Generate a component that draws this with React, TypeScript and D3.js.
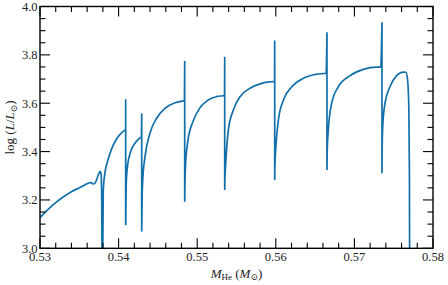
import React from "react";
import * as d3 from "d3";

// Helium core mass (Msun) and log luminosity
const mass: number[] = [
  0.5300, 0.5310, 0.5320, 0.5330, 0.5340, 0.5350, 0.5357, 0.5362, 0.5365, 0.5368,
  0.5371, 0.5374, 0.53765, 0.53778, 0.53785, 0.53790, 0.53797,
  0.53805, 0.5383, 0.5386, 0.5391, 0.5397, 0.5403, 0.5408, 0.54090,
  0.54090, 0.54090,
  0.54091, 0.54094, 0.54100, 0.54118, 0.54140, 0.54161, 0.54190, 0.54224, 0.54275, 0.54290,
  0.54294, 0.54294,
  0.54296, 0.54300, 0.54307, 0.54336, 0.54399, 0.54484, 0.54590, 0.54718, 0.54824, 0.54838,
  0.54841, 0.54841,
  0.54843, 0.54850, 0.54883, 0.54946, 0.55031, 0.55137, 0.55244, 0.55328, 0.55348,
  0.55350, 0.55350,
  0.55352, 0.55363, 0.55396, 0.55460, 0.55545, 0.55672, 0.55799, 0.55918, 0.55984,
  0.55986, 0.55986,
  0.55988, 0.56004, 0.56033, 0.56097, 0.56204, 0.56352, 0.56522, 0.56640,
  0.56651, 0.56651,
  0.56654, 0.56668, 0.56711, 0.56795, 0.56940, 0.57113, 0.57284, 0.57335,
  0.57351, 0.57351,
  0.57353, 0.57360, 0.57389, 0.57452, 0.57537, 0.57621, 0.57656, 0.57677, 0.57693, 0.57700, 0.57703,
];
const logL: number[] = [
  3.127, 3.160, 3.189, 3.213, 3.234, 3.250, 3.262, 3.270, 3.272, 3.266,
  3.275, 3.302, 3.318, 3.305, 3.200, 2.950, 2.950,
  3.240, 3.320, 3.360, 3.410, 3.450, 3.475, 3.489, 3.492,
  3.616, 3.096,
  3.100, 3.200, 3.290, 3.352, 3.385, 3.407, 3.426, 3.441, 3.457, 3.460,
  3.558, 3.069,
  3.120, 3.220, 3.282, 3.379, 3.476, 3.538, 3.579, 3.602, 3.610, 3.611,
  3.775, 3.193,
  3.240, 3.337, 3.448, 3.524, 3.579, 3.613, 3.627, 3.631, 3.632,
  3.792, 3.241,
  3.280, 3.352, 3.489, 3.572, 3.627, 3.662, 3.680, 3.688, 3.690,
  3.859, 3.282,
  3.330, 3.434, 3.531, 3.613, 3.668, 3.703, 3.720, 3.724,
  3.893, 3.324,
  3.400, 3.489, 3.600, 3.668, 3.713, 3.740, 3.749, 3.749,
  3.935, 3.310,
  3.400, 3.503, 3.600, 3.668, 3.714, 3.729, 3.728, 3.696, 3.572, 3.300, 2.900,
];

const xMajor: number[] = [0.53, 0.54, 0.55, 0.56, 0.57, 0.58];
const xMajorLabels: string[] = ["0.53", "0.54", "0.55", "0.56", "0.57", "0.58"];
const yMajor: number[] = [3.0, 3.2, 3.4, 3.6, 3.8, 4.0];
const yMajorLabels: string[] = ["3.0", "3.2", "3.4", "3.6", "3.8", "4.0"];

const W = 448;
const H = 285;
const left = 40;
const right = 433;
const top = 6.5;
const bottom = 248.3;
const FONT = "Liberation Serif, DejaVu Serif, serif";
const COLOR = "#1170aa";

export default function App() {
  const x = d3.scaleLinear().domain([0.53, 0.58]).range([left, right]);
  const y = d3.scaleLinear().domain([3.0, 4.0]).range([bottom, top]);

  const pts = mass.map((m, i) => [m, logL[i]] as [number, number]);

  // split into runs with strictly increasing mass; vertical jumps join the runs
  const runs: [number, number][][] = [];
  pts.forEach((p, i) => {
    if (i === 0 || p[0] <= pts[i - 1][0]) runs.push([p]);
    else runs[runs.length - 1].push(p);
  });

  const smooth = d3
    .line<[number, number]>()
    .x((d) => x(d[0]))
    .y((d) => y(d[1]))
    .curve(d3.curveMonotoneX);
  const straight = d3
    .line<[number, number]>()
    .x((d) => x(d[0]))
    .y((d) => y(d[1]));

  const paths: string[] = [];
  runs.forEach((r, i) => {
    if (r.length > 1) paths.push(smooth(r) || "");
    if (i > 0) {
      const prev = runs[i - 1];
      paths.push(straight([prev[prev.length - 1], r[0]]) || "");
    }
  });

  const xMinor = d3
    .range(0, 26)
    .map((i) => 0.53 + i * 0.002)
    .filter((v) => Math.abs((v - 0.53) / 0.01 - Math.round((v - 0.53) / 0.01)) > 1e-6);
  const yMinor = d3
    .range(0, 21)
    .map((i) => 3.0 + i * 0.05)
    .filter((v) => Math.abs((v - 3) / 0.2 - Math.round((v - 3) / 0.2)) > 1e-6);

  const MAJ = 10;
  const MIN = 5.5;

  return (
    <svg
      width={W}
      height={H}
      style={{ position: "absolute", left: 0, top: 0, background: "#fff" }}
      fontFamily={FONT}
    >
      <defs>
        <clipPath id="plotClip">
          <rect x={left} y={top} width={right - left} height={bottom - top} />
        </clipPath>
      </defs>
      <rect x={0} y={0} width={W} height={H} fill="#fff" />
      <g clipPath="url(#plotClip)" fill="none" stroke={COLOR} strokeWidth={1.7} strokeLinejoin="round" strokeLinecap="butt">
        <path d={paths.join(" ")} />
      </g>
      <g stroke="#000" strokeWidth={1.1}>
        {xMajor.map((v, i) => (
          <g key={"xm" + i}>
            <line x1={x(v)} x2={x(v)} y1={bottom} y2={bottom - MAJ} />
            <line x1={x(v)} x2={x(v)} y1={top} y2={top + MAJ} />
          </g>
        ))}
        {xMinor.map((v, i) => (
          <g key={"xn" + i}>
            <line x1={x(v)} x2={x(v)} y1={bottom} y2={bottom - MIN} />
            <line x1={x(v)} x2={x(v)} y1={top} y2={top + MIN} />
          </g>
        ))}
        {yMajor.map((v, i) => (
          <g key={"ym" + i}>
            <line x1={left} x2={left + MAJ} y1={y(v)} y2={y(v)} />
            <line x1={right} x2={right - MAJ} y1={y(v)} y2={y(v)} />
          </g>
        ))}
        {yMinor.map((v, i) => (
          <g key={"yn" + i}>
            <line x1={left} x2={left + MIN} y1={y(v)} y2={y(v)} />
            <line x1={right} x2={right - MIN} y1={y(v)} y2={y(v)} />
          </g>
        ))}
      </g>
      <rect
        x={left}
        y={top}
        width={right - left}
        height={bottom - top}
        fill="none"
        stroke="#000"
        strokeWidth={1.4}
      />
      <g fontSize={12.5} fill="#222">
        {xMajor.map((v, i) => (
          <text key={"xl" + i} x={x(v)} y={261} textAnchor="middle">
            {xMajorLabels[i]}
          </text>
        ))}
        {yMajor.map((v, i) => (
          <text key={"yl" + i} x={left - 2.5} y={y(v)} dy="0.35em" textAnchor="end">
            {yMajorLabels[i]}
          </text>
        ))}
      </g>
      <text x={(left + right) / 2} y={277.5} textAnchor="middle" fontSize={13} fill="#222">
        <tspan fontStyle="italic">M</tspan>
        <tspan fontSize={9} dy={2.5}>He</tspan>
        <tspan dy={-2.5}> (</tspan>
        <tspan fontStyle="italic">M</tspan>
        <tspan fontSize={9} dy={2.5}>⊙</tspan>
        <tspan dy={-2.5}>)</tspan>
      </text>
      <text
        transform={`translate(14, ${(top + bottom) / 2}) rotate(-90)`}
        textAnchor="middle"
        fontSize={13}
        fill="#222"
      >
        <tspan>log (</tspan>
        <tspan fontStyle="italic">L</tspan>
        <tspan>/</tspan>
        <tspan fontStyle="italic">L</tspan>
        <tspan fontSize={9} dy={2.5}>⊙</tspan>
        <tspan dy={-2.5}>)</tspan>
      </text>
    </svg>
  );
}
